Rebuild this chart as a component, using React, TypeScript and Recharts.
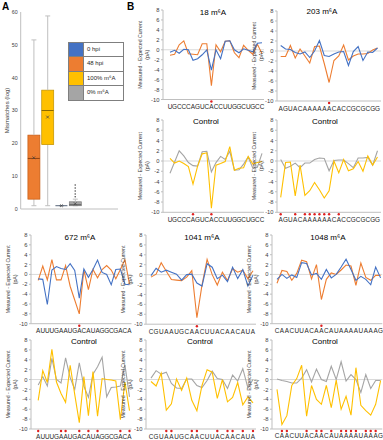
import React from "react";
import {
  ComposedChart,
  LineChart,
  Line,
  Bar,
  Scatter,
  XAxis,
  YAxis,
  ReferenceLine,
} from "recharts";

// Excel-style palette used across both panels
const BLUE = "#4472C4";
const ORANGE = "#ED7D31";
const YELLOW = "#FFC000";
const GRAY = "#A5A5A5";
const INK = "#404040";
const AXIS = "#BFBFBF";
const FONT = "'Liberation Sans', Arial, sans-serif";

// ---- Panel A: mismatch box plots ----
const BOX_POS = [1, 2, 3, 4];
const BOX_MIN = [1, 1, 1, 1];
const BOX_Q1 = [3, 19.6, 1, 1];
const BOX_MED = [15.4, 30, 1, 1.3];
const BOX_Q3 = [22.5, 36.2, 1, 2.2];
const BOX_MAX = [51.5, 58.8, 1, 3];
const BOX_MEAN = [15.6, 28, 1, 1.6];
const OUTLIER_POS = [4, 4, 4, 4, 4];
const OUTLIER_VAL = [3.7, 4.6, 5.5, 6.4, 7.3];
const MISMATCH_TICKS = [0, 10, 20, 30, 40, 50, 60];

const LEGEND_LABELS = ["0 hpi", "48 hpi", "100% m⁶A", "0% m⁶A"];
const LEGEND_COLORS = [BLUE, ORANGE, YELLOW, GRAY];

const BOX_FILL = [ORANGE, YELLOW, BLUE, GRAY];
const BOX_EDGE = ["#C55A11", "#BF9000", "#44546A", "#7F7F7F"];
const BOX_MEDIAN = ["#843C0C", "#7F6000", "#44546A", "#595959"];

// ---- Panel B: current traces ----
const Y_TICKS = [-10, -8, -6, -4, -2, 0, 2, 4, 6, 8];

const SEQ_18 = "UGCCCAGUCACCUUGGCUGCC";
const MARKS_18 = [9];
const MARKS_18_CTRL = [5, 9];
const HPI0_18 = [-0.5, -0.1, -0.7, 0.1, 0.0, -2.1, -1.8, -1.0, 0.0, -4.1, 0.0, -1.8, 1.7, 1.8, 0.0, -0.6, 0.2, -0.1, -0.4, 1.3, 1.4];
const HPI48_18 = [-1.1, -0.9, 1.0, 1.8, -0.8, -0.9, -1.0, 1.2, 1.2, -7.2, 1.0, -0.4, 1.7, 1.8, -0.6, -1.6, 0.9, -0.1, -0.9, 1.1, -0.8];
const IVT100_18 = [0.5, -0.4, 0.0, -0.5, -1.1, -4.5, -1.0, 1.4, 1.6, -9.2, -0.8, -0.5, -0.1, 2.8, -1.8, -1.4, -1.3, 0.9, -0.6, -0.3, -0.1];
const IVT0_18 = [-2.4, -0.2, 2.0, 1.0, -0.3, -0.9, -1.0, 1.8, 1.9, -2.1, -0.3, 0.9, 0.3, 1.9, -1.8, -1.7, -0.6, 0.8, -1.4, -1.2, 1.5];

const SEQ_203 = "AGUACAAAAAACACCGCGCGG";
const MARKS_203 = [10];
const MARKS_203_CTRL = [0, 3, 5, 6, 7, 8, 9, 10, 12];
const HPI0_203 = [1.1, 0.4, 0.3, -0.3, -0.6, -0.2, -1.3, 0.0, 2.1, -0.9, -1.1, -0.6, -0.2, -0.1, -2.9, -0.1, 0.9, -1.9, -0.2, -0.3, 0.6];
const HPI48_203 = [-1.1, -1.1, 1.1, -1.4, 0.4, -1.0, -2.4, 0.9, 1.0, -2.5, -6.3, -1.9, -1.0, 1.2, -1.8, -1.0, -0.6, -0.6, -0.5, 0.2, 0.6];
const IVT100_203 = [-7.1, -0.3, -0.2, -6.8, -0.8, -6.7, -5.8, -4.2, -5.6, -7.2, -5.8, 0.0, -2.3, 0.3, -1.9, -1.5, -0.1, -2.0, 1.0, -0.8, 0.8];
const IVT0_203 = [0.3, -1.4, -1.0, -0.4, -1.3, -0.4, -0.4, 0.3, 0.6, 0.5, -1.9, 0.1, 0.2, 0.2, -0.5, -1.3, 0.6, 0.6, 0.7, -0.8, 2.0];

const SEQ_672 = "AUUUGAAUGACAUAGGCGACA";
const MARKS_672 = [9];
const MARKS_672_CTRL = [0, 5, 6, 9, 11, 13, 18, 20];
const HPI0_672 = [-0.9, -1.0, -6.1, 0.9, 1.6, 1.2, 1.0, 2.2, 0.8, -4.8, 1.1, -0.6, 1.0, 2.9, 0.4, 0.0, -2.1, 1.0, 1.1, -2.0, -2.1];
const HPI48_672 = [-1.2, 1.7, -1.1, 3.0, -1.1, -1.1, 1.8, -2.4, -5.2, -8.0, 0.9, -3.1, 1.0, -0.7, 1.0, 1.8, 0.9, -0.9, 1.0, 3.0, -2.0];
const IVT100_672 = [-4.2, 1.8, -0.6, 6.1, -0.5, -2.8, -4.6, 2.9, -3.0, -8.7, 0.6, -7.3, 1.6, -7.4, 0.2, 0.0, -0.1, -0.3, -8.1, -0.5, -6.3];
const IVT0_672 = [-1.1, 0.6, -1.3, 4.3, 0.0, -0.7, 4.4, 0.4, -2.0, 3.4, -1.3, -3.6, 1.1, 2.6, 4.5, -3.5, -1.6, -1.5, -1.3, 3.0, -3.5];

const SEQ_1041 = "CGUAAUGCAACUUACAACAUA";
const MARKS_1041 = [9];
const MARKS_1041_CTRL = [3, 4, 8, 9, 13, 15, 16, 18, 20];
const HPI0_1041 = [-0.2, 1.3, 0.5, 0.9, 0.5, 0.1, -1.1, 0.0, 0.1, -1.7, -2.3, 2.2, 1.5, -0.8, -0.1, -1.4, 1.5, -0.8, 1.0, -2.3, -0.1];
const HPI48_1041 = [-0.5, 0.1, 2.4, 0.7, -1.0, -1.1, -1.2, -0.5, 0.8, -8.7, -2.1, 3.1, 0.0, -2.1, 0.5, -1.2, 1.2, 0.5, 0.9, -0.8, 0.8];
const IVT100_1041 = [-0.4, -1.3, 1.3, -6.2, -4.9, 0.1, -2.2, 0.3, -4.2, -6.3, -1.2, 2.0, 1.5, -3.8, 0.0, -4.5, -3.6, -0.6, -5.1, -3.5, -4.7];
const IVT0_1041 = [0.3, 1.8, 1.1, 1.5, -0.8, -1.7, -1.8, 0.1, 0.1, -1.2, -1.6, -0.2, 1.7, 0.2, 0.0, -1.8, 0.9, -0.3, 2.2, -1.7, 0.0];

const SEQ_1048 = "CAACUUACAACAUAAAAUAAAG";
const MARKS_1048 = [9];
const MARKS_1048_CTRL = [1, 2, 6, 8, 9, 11, 13, 14, 15, 16, 18, 19, 20];
const HPI0_1048 = [-1.0, 0.0, -0.8, -0.1, -0.6, 2.4, 2.2, -0.1, 0.2, -1.0, 1.0, -0.7, 0.0, 1.5, 3.1, 1.0, -1.2, -0.4, -1.0, -2.1, 1.5, -0.7];
const HPI48_1048 = [-1.8, 0.8, 0.6, -1.2, 0.2, 2.9, 2.6, -0.9, 2.0, -5.1, -1.0, 0.3, 0.0, 0.9, 1.9, 1.7, -2.2, 2.3, -0.6, -1.2, -0.2, -0.2];
const IVT100_1048 = [-2.0, -9.1, -7.3, -1.2, 0.2, 2.9, -7.4, -1.2, -4.0, -5.0, -1.2, -5.7, -0.1, -6.0, -3.4, -7.2, 2.4, -5.2, -6.3, -7.2, -5.0, -0.2];
const IVT0_1048 = [0.1, -0.2, -0.4, -0.7, -0.7, 0.3, 2.0, -0.5, 2.1, 0.0, -0.4, 2.7, 0.0, 3.6, -0.3, 1.0, 0.0, -2.6, 1.0, -1.8, -0.2, -0.2];

type Frame = {
  axisX: number;
  top: number;
  bottom: number;
  firstX: number;
  lastX: number;
  right: number;
  titleX: number;
  titleY: number;
};

type TraceProps = {
  frame: Frame;
  title: string;
  seq: string;
  marks: number[];
  back: number[];
  front: number[];
  backColor: string;
  frontColor: string;
};

// x positions: one column per nucleotide
const COL_18 = { axisX: 163, firstX: 170, lastX: 262, right: 264 };
const COL_203 = { axisX: 277, firstX: 280.7, lastX: 377.5, right: 381 };
const COL_672 = { axisX: 30.5, firstX: 37.7, lastX: 129, right: 131 };
const COL_1041 = { axisX: 146, firstX: 151, lastX: 253, right: 256 };
const COL_1048 = { axisX: 271.7, firstX: 276.7, lastX: 380.3, right: 382 };

function BaseTick(props: any) {
  const { x, y, payload, seq, marks } = props;
  const i = payload.value as number;
  return (
    <g>
      {marks.includes(i) && <circle cx={x} cy={y + 2} r={1.2} fill="#E02020" />}
      <text x={x} y={y + 9.5} textAnchor="middle" fontSize={6.4} fill="#262626" fontFamily={FONT}>
        {seq[i]}
      </text>
    </g>
  );
}

function CurrentTitle(props: any) {
  const vb = props.viewBox;
  const cy = vb.y + vb.height / 2;
  return (
    <g fontSize={5.2} fill={INK} textAnchor="middle" fontFamily={FONT}>
      <text transform={`translate(${vb.x + 9},${cy}) rotate(-90)`}>Measured - Expected Current</text>
      <text transform={`translate(${vb.x + 16},${cy}) rotate(-90)`}>(pA)</text>
    </g>
  );
}

function Trace({ frame, title, seq, marks, back, front, backColor, frontColor }: TraceProps) {
  const n = seq.length;
  const rows = seq.split("").map((_, i) => ({ pos: i, back: back[i], front: front[i] }));
  const step = (frame.lastX - frame.firstX) / (n - 1);
  const domain = [-(frame.firstX - frame.axisX) / step, n - 1 + (frame.right - frame.lastX) / step];
  const left = frame.axisX - 30;
  const top = frame.top - 4;
  const width = frame.right - left + 2;
  const height = frame.bottom - top + 14;
  return (
    <>
      <div style={{ position: "absolute", left, top }}>
        <LineChart width={width} height={height} data={rows} margin={{ top: 4, right: 2, bottom: 0, left: 0 }}>
          <XAxis
            type="number"
            dataKey="pos"
            domain={domain}
            allowDataOverflow
            ticks={rows.map((r) => r.pos)}
            interval={0}
            height={14}
            tickSize={0}
            tickMargin={0}
            tickLine={false}
            stroke={AXIS}
            tick={<BaseTick seq={seq} marks={marks} />}
          />
          <YAxis
            type="number"
            domain={[-10, 8]}
            ticks={Y_TICKS}
            interval={0}
            allowDataOverflow
            width={30}
            tickSize={2}
            tickMargin={1.5}
            stroke={AXIS}
            tick={{ fontSize: 5.8, fill: INK, fontFamily: FONT }}
            label={<CurrentTitle />}
          />
          <ReferenceLine y={0} stroke="#D9D9D9" strokeWidth={1} />
          <Line dataKey="back" stroke={backColor} strokeWidth={1.1} dot={false} isAnimationActive={false} />
          <Line dataKey="front" stroke={frontColor} strokeWidth={1.1} dot={false} isAnimationActive={false} />
        </LineChart>
      </div>
      <div
        style={{
          position: "absolute",
          left: frame.titleX - 40,
          top: frame.titleY - 6,
          width: 80,
          textAlign: "center",
          fontSize: 8,
          lineHeight: "12px",
          color: "#000",
        }}
      >
        {title}
      </div>
    </>
  );
}

// ---- box plot shapes ----
const WhiskerLow = (p: any) => {
  const cx = p.x + p.width / 2;
  const y2 = p.y + p.height;
  return (
    <g stroke={AXIS} strokeWidth={1}>
      <line x1={cx} x2={cx} y1={p.y} y2={y2} />
      <line x1={cx - 2.5} x2={cx + 2.5} y1={y2} y2={y2} />
    </g>
  );
};

const WhiskerHigh = (p: any) => {
  const cx = p.x + p.width / 2;
  return (
    <g stroke={AXIS} strokeWidth={1}>
      <line x1={cx} x2={cx} y1={p.y} y2={p.y + p.height} />
      <line x1={cx - 2.5} x2={cx + 2.5} y1={p.y} y2={p.y} />
    </g>
  );
};

const BoxRect = (p: any) => {
  const i = p.payload.pos - 1;
  return (
    <rect x={p.x} y={p.y} width={p.width} height={Math.max(p.height, 0)} fill={BOX_FILL[i]} stroke={BOX_EDGE[i]} strokeWidth={0.7} />
  );
};

const MedianMark = (p: any) => {
  const i = p.payload.pos - 1;
  return <line x1={p.cx - 6} x2={p.cx + 6} y1={p.cy} y2={p.cy} stroke={BOX_MEDIAN[i]} strokeWidth={0.9} />;
};

const MeanMark = (p: any) => (
  <g stroke={INK} strokeWidth={0.7}>
    <line x1={p.cx - 1.4} y1={p.cy - 1.4} x2={p.cx + 1.4} y2={p.cy + 1.4} />
    <line x1={p.cx - 1.4} y1={p.cy + 1.4} x2={p.cx + 1.4} y2={p.cy - 1.4} />
  </g>
);

const OutlierMark = (p: any) => <circle cx={p.cx} cy={p.cy} r={0.75} fill={INK} />;

function MismatchTitle(props: any) {
  const vb = props.viewBox;
  const cy = vb.y + vb.height / 2;
  return (
    <text transform={`translate(${vb.x + 8.5},${cy}) rotate(-90)`} textAnchor="middle" fontSize={6} fill={INK} fontFamily={FONT}>
      Mismatches (log)
    </text>
  );
}

function MismatchBoxes() {
  const rows = BOX_POS.map((pos, i) => ({
    pos,
    base: BOX_MIN[i],
    lowWhisker: BOX_Q1[i] - BOX_MIN[i],
    box: BOX_Q3[i] - BOX_Q1[i],
    highWhisker: BOX_MAX[i] - BOX_Q3[i],
    median: BOX_MED[i],
    mean: BOX_MEAN[i],
  }));
  const outliers = OUTLIER_POS.map((pos, i) => ({ pos, value: OUTLIER_VAL[i] }));
  return (
    <div style={{ position: "absolute", left: 0, top: 0 }}>
      <ComposedChart width={125} height={215} data={rows} margin={{ top: 12, right: 7, bottom: 5, left: 0 }}>
        <XAxis type="number" dataKey="pos" domain={[0.05, 7.1]} allowDataOverflow height={1} tick={false} tickLine={false} stroke={AXIS} />
        <YAxis
          type="number"
          domain={[0, 60]}
          ticks={MISMATCH_TICKS}
          interval={0}
          width={20.7}
          tickSize={0}
          tickMargin={3}
          stroke={AXIS}
          tick={{ fontSize: 5.3, fill: INK, fontFamily: FONT }}
          label={<MismatchTitle />}
        />
        <Bar dataKey="base" stackId="box" barSize={12} fill="none" isAnimationActive={false} />
        <Bar dataKey="lowWhisker" stackId="box" barSize={12} shape={WhiskerLow} isAnimationActive={false} />
        <Bar dataKey="box" stackId="box" barSize={12} shape={BoxRect} isAnimationActive={false} />
        <Bar dataKey="highWhisker" stackId="box" barSize={12} shape={WhiskerHigh} isAnimationActive={false} />
        <Scatter dataKey="median" shape={MedianMark} isAnimationActive={false} />
        <Scatter dataKey="mean" shape={MeanMark} isAnimationActive={false} />
        <Scatter data={outliers} dataKey="value" shape={OutlierMark} isAnimationActive={false} />
      </ComposedChart>
    </div>
  );
}

function BoxLegend() {
  return (
    <div style={{ position: "absolute", left: 68, top: 42, width: 54, border: "0.7px solid #7F7F7F", background: "#fff" }}>
      {LEGEND_LABELS.map((label, i) => (
        <div
          key={label}
          style={{
            display: "flex",
            height: 13.4,
            borderTop: i === 0 ? "none" : "0.7px solid #7F7F7F",
          }}
        >
          <div style={{ width: 14, background: LEGEND_COLORS[i], borderRight: "0.7px solid #7F7F7F" }} />
          <div style={{ fontSize: 6, lineHeight: "13.4px", paddingLeft: 3, color: "#262626" }}>{label}</div>
        </div>
      ))}
    </div>
  );
}

export default function App() {
  return (
    <div
      style={{
        position: "absolute",
        left: 0,
        top: 0,
        width: 383,
        height: 440,
        background: "#fff",
        fontFamily: FONT,
        overflow: "hidden",
      }}
    >
      <MismatchBoxes />
      <BoxLegend />
      <div style={{ position: "absolute", left: 2, top: 1, fontSize: 10, fontWeight: "bold" }}>A</div>
      <div style={{ position: "absolute", left: 127, top: 1, fontSize: 10, fontWeight: "bold" }}>B</div>

      <Trace
        frame={{ ...COL_18, top: 10, bottom: 99.5, titleX: 213, titleY: 13 }}
        title="18 m⁶A"
        seq={SEQ_18}
        marks={MARKS_18}
        back={HPI48_18}
        front={HPI0_18}
        backColor={ORANGE}
        frontColor={BLUE}
      />
      <Trace
        frame={{ ...COL_203, top: 10.7, bottom: 100.7, titleX: 322, titleY: 12 }}
        title="203 m⁶A"
        seq={SEQ_203}
        marks={MARKS_203}
        back={HPI48_203}
        front={HPI0_203}
        backColor={ORANGE}
        frontColor={BLUE}
      />
      <Trace
        frame={{ ...COL_18, top: 120, bottom: 212.3, titleX: 206, titleY: 122 }}
        title="Control"
        seq={SEQ_18}
        marks={MARKS_18_CTRL}
        back={IVT0_18}
        front={IVT100_18}
        backColor={GRAY}
        frontColor={YELLOW}
      />
      <Trace
        frame={{ ...COL_203, top: 120, bottom: 212.3, titleX: 325, titleY: 122 }}
        title="Control"
        seq={SEQ_203}
        marks={MARKS_203_CTRL}
        back={IVT0_203}
        front={IVT100_203}
        backColor={GRAY}
        frontColor={YELLOW}
      />

      <Trace
        frame={{ ...COL_672, top: 235, bottom: 323.7, titleX: 80, titleY: 238 }}
        title="672 m⁶A"
        seq={SEQ_672}
        marks={MARKS_672}
        back={HPI48_672}
        front={HPI0_672}
        backColor={ORANGE}
        frontColor={BLUE}
      />
      <Trace
        frame={{ ...COL_1041, top: 234.5, bottom: 323.7, titleX: 202, titleY: 238 }}
        title="1041 m⁶A"
        seq={SEQ_1041}
        marks={MARKS_1041}
        back={HPI48_1041}
        front={HPI0_1041}
        backColor={ORANGE}
        frontColor={BLUE}
      />
      <Trace
        frame={{ ...COL_1048, top: 235, bottom: 323.7, titleX: 328, titleY: 238 }}
        title="1048 m⁶A"
        seq={SEQ_1048}
        marks={MARKS_1048}
        back={HPI48_1048}
        front={HPI0_1048}
        backColor={ORANGE}
        frontColor={BLUE}
      />

      <Trace
        frame={{ ...COL_672, top: 340, bottom: 429, titleX: 84, titleY: 342 }}
        title="Control"
        seq={SEQ_672}
        marks={MARKS_672_CTRL}
        back={IVT0_672}
        front={IVT100_672}
        backColor={GRAY}
        frontColor={YELLOW}
      />
      <Trace
        frame={{ ...COL_1041, top: 340, bottom: 429, titleX: 200, titleY: 342 }}
        title="Control"
        seq={SEQ_1041}
        marks={MARKS_1041_CTRL}
        back={IVT0_1041}
        front={IVT100_1041}
        backColor={GRAY}
        frontColor={YELLOW}
      />
      <Trace
        frame={{ ...COL_1048, top: 340, bottom: 429, titleX: 325, titleY: 342 }}
        title="Control"
        seq={SEQ_1048}
        marks={MARKS_1048_CTRL}
        back={IVT0_1048}
        front={IVT100_1048}
        backColor={GRAY}
        frontColor={YELLOW}
      />
    </div>
  );
}
